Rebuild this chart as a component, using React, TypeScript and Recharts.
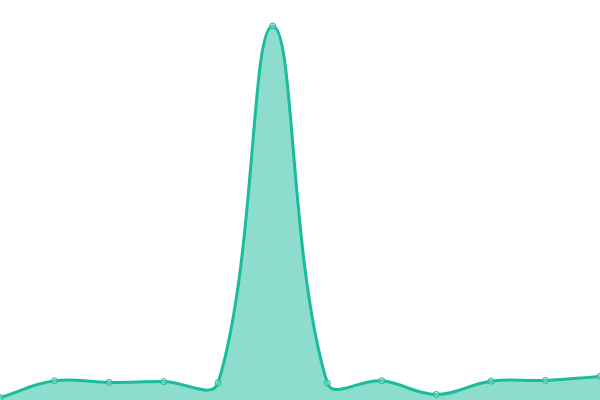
import React from 'react';
import { Area, AreaChart, XAxis, YAxis } from 'recharts';

const categories = ['1', '2', '3', '4', '5', '6', '7', '8', '9', '10', '11', '12'];
const seriesValues = [0.6, 4.8, 4.4, 4.6, 4.3, 93.5, 4.25, 4.8, 1.4, 4.7, 4.9, 5.9];

const data = categories.map((name, i) => ({ name, value: seriesValues[i] }));

const WIDTH = 600;
const HEIGHT = 400;

type Pt = { x: number; y: number };

// tension spline (distance-weighted control points), control points capped to the plot box
const makeSpline = (tension: number) => (context: any) => {
  let pts: Pt[] = [];
  let line = NaN;

  const clampX = (v: number) => Math.max(0, Math.min(WIDTH, v));
  const clampY = (v: number) => Math.max(0, Math.min(HEIGHT, v));

  const draw = () => {
    const n = pts.length;
    if (!n) return;
    const ctrl = pts.map((cur, i) => {
      const prev = i > 0 ? pts[i - 1] : cur;
      const next = i < n - 1 ? pts[i + 1] : cur;
      const d01 = Math.hypot(cur.x - prev.x, cur.y - prev.y);
      const d12 = Math.hypot(next.x - cur.x, next.y - cur.y);
      let s01 = d01 / (d01 + d12);
      let s12 = d12 / (d01 + d12);
      if (isNaN(s01)) s01 = 0;
      if (isNaN(s12)) s12 = 0;
      const fa = tension * s01;
      const fb = tension * s12;
      return {
        px: clampX(cur.x - fa * (next.x - prev.x)),
        py: clampY(cur.y - fa * (next.y - prev.y)),
        nx: clampX(cur.x + fb * (next.x - prev.x)),
        ny: clampY(cur.y + fb * (next.y - prev.y)),
      };
    });
    if (line) context.lineTo(pts[0].x, pts[0].y);
    else context.moveTo(pts[0].x, pts[0].y);
    for (let i = 1; i < n; i++) {
      context.bezierCurveTo(ctrl[i - 1].nx, ctrl[i - 1].ny, ctrl[i].px, ctrl[i].py, pts[i].x, pts[i].y);
    }
  };

  return {
    areaStart() {
      line = 0;
    },
    areaEnd() {
      line = NaN;
    },
    lineStart() {
      pts = [];
    },
    lineEnd() {
      draw();
      if (line || (line !== 0 && pts.length === 1)) context.closePath();
      line = 1 - line;
    },
    point(x: number, y: number) {
      pts.push({ x: +x, y: +y });
    },
  };
};

const spline = makeSpline(0.4);

const App: React.FC = () => {
  return (
    <div style={{ position: 'absolute', left: 0, top: 0 }}>
      <AreaChart
        width={WIDTH}
        height={HEIGHT}
        data={data}
        margin={{ top: 0, right: 0, left: 0, bottom: 0 }}
      >
        <XAxis dataKey="name" hide />
        <YAxis hide domain={[0, 100]} />
        <Area
          type={spline as any}
          dataKey="value"
          stroke="#1abc9c"
          strokeWidth={3}
          fill="#1abc9c"
          fillOpacity={0.5}
          dot={{ r: 3, fill: '#8de0cf', stroke: '#1abc9c', strokeWidth: 1 }}
          activeDot={false}
          isAnimationActive={false}
        />
      </AreaChart>
    </div>
  );
};

export default App;
